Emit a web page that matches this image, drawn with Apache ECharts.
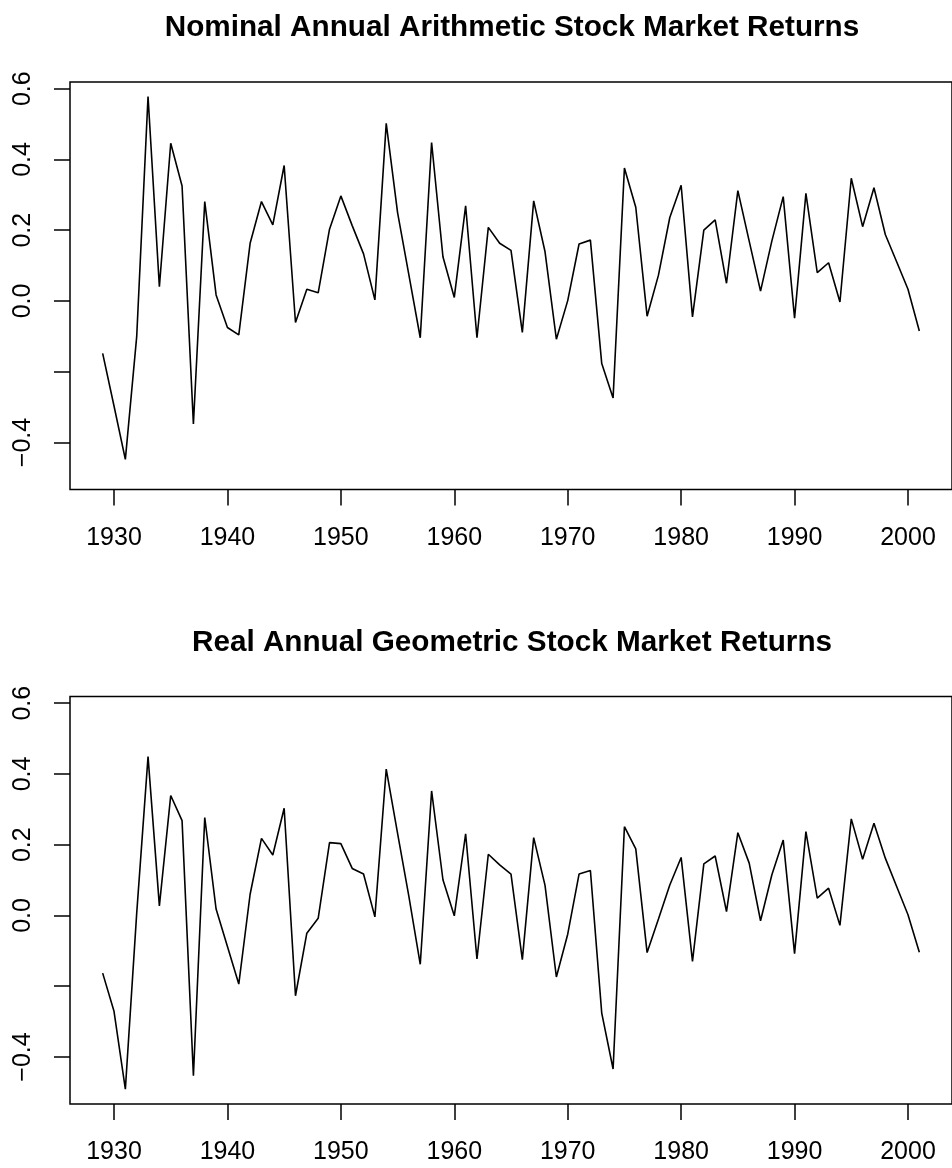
<!DOCTYPE html>
<html>
<head>
<meta charset="utf-8">
<script src="https://cdn.jsdelivr.net/npm/echarts@6/dist/echarts.min.js"></script>
<style>
html,body{margin:0;padding:0;background:#fff;}
#chart{width:952px;height:1168px;}
</style>
</head>
<body>
<div id="chart"></div>
<script>
var years = [1929,1930,1931,1932,1933,1934,1935,1936,1937,1938,1939,1940,1941,1942,1943,1944,1945,1946,1947,1948,1949,
1950,1951,1952,1953,1954,1955,1956,1957,1958,1959,1960,1961,1962,1963,1964,1965,1966,1967,1968,1969,
1970,1971,1972,1973,1974,1975,1976,1977,1978,1979,1980,1981,1982,1983,1984,1985,1986,1987,1988,1989,
1990,1991,1992,1993,1994,1995,1996,1997,1998,1999,2000,2001];

var nominalArith = [-0.148,-0.297,-0.448,-0.101,0.578,0.040,0.446,0.325,-0.348,0.281,0.017,-0.075,-0.096,0.163,0.281,0.215,0.383,-0.061,0.033,0.023,0.203,
0.297,0.213,0.133,0.003,0.502,0.250,0.073,-0.104,0.448,0.125,0.010,0.269,-0.104,0.208,0.163,0.143,-0.089,0.283,0.139,-0.108,
0.001,0.161,0.172,-0.177,-0.274,0.376,0.265,-0.043,0.073,0.236,0.327,-0.045,0.200,0.229,0.050,0.312,0.169,0.028,0.170,0.295,
-0.049,0.304,0.080,0.108,-0.003,0.347,0.210,0.320,0.188,0.111,0.033,-0.085];

var realGeom = [-0.163,-0.271,-0.491,0.006,0.449,0.027,0.339,0.268,-0.453,0.277,0.018,-0.088,-0.194,0.060,0.218,0.171,0.303,-0.227,-0.050,-0.008,0.206,
0.203,0.133,0.117,-0.004,0.414,0.232,0.053,-0.138,0.352,0.101,-0.001,0.231,-0.123,0.173,0.143,0.117,-0.125,0.220,0.085,-0.174,
-0.053,0.117,0.127,-0.276,-0.434,0.251,0.188,-0.105,-0.010,0.086,0.164,-0.130,0.146,0.168,0.011,0.234,0.148,-0.015,0.115,0.213,
-0.108,0.237,0.049,0.077,-0.028,0.273,0.159,0.261,0.162,0.082,0.002,-0.104];

var titles = ['Nominal Annual Arithmetic Stock Market Returns', 'Real Annual Geometric Stock Market Returns'];
var xTickValues = [1930,1940,1950,1960,1970,1980,1990,2000];
var yTickValues = [-0.4,-0.2,0.0,0.2,0.4,0.6];
var yLabelValues = [-0.4,0.0,0.2,0.4,0.6];

var xRange = [1926.12, 2003.88];
var yRange = [-0.533, 0.619];

function pairs(xs, ys){ var out=[]; for(var i=0;i<xs.length;i++){ out.push([xs[i], ys[i]]); } return out; }
function fmtY(v){ var s=Math.abs(v).toFixed(1); return (v < -1e-9 ? '\u2212' : '') + s; }

var gridTops = [82, 696.5];
var titleTops = [13, 627.5];
var seriesData = [nominalArith, realGeom];

var option = {
  animation: false,
  backgroundColor: '#ffffff',
  title: [],
  grid: [],
  xAxis: [],
  yAxis: [],
  series: []
};

for (var k = 0; k < 2; k++) {
  option.title.push({
    text: titles[k],
    left: 512,
    top: titleTops[k],
    textAlign: 'center',
    padding: 0,
    textStyle: {fontFamily: 'Liberation Sans', fontWeight: 'bold', fontSize: 29.7, color: '#000'}
  });
  option.grid.push({
    left: 70, top: gridTops[k], width: 884, height: 407.5,
    show: true, borderColor: '#000', borderWidth: 1.5, backgroundColor: 'transparent'
  });
  option.xAxis.push({
    gridIndex: k, type: 'value', min: xRange[0], max: xRange[1], position: 'bottom',
    splitLine: {show: false},
    axisLine: {show: false, onZero: false},
    axisTick: {show: true, inside: false, length: 16, customValues: xTickValues, lineStyle: {color: '#000', width: 1.5}},
    axisLabel: {show: true, customValues: xTickValues, margin: 36, fontSize: 25, color: '#000', fontFamily: 'Liberation Sans',
      formatter: function(v){ return String(Math.round(v)); }}
  });
  option.yAxis.push({
    gridIndex: k, type: 'value', min: yRange[0], max: yRange[1], position: 'left',
    splitLine: {show: false},
    axisLine: {show: false, onZero: false},
    axisTick: {show: true, inside: false, length: 16, customValues: yTickValues, lineStyle: {color: '#000', width: 1.5}},
    axisLabel: {show: true, customValues: yLabelValues, rotate: 90, margin: 34, fontSize: 25, color: '#000', fontFamily: 'Liberation Sans',
      formatter: fmtY}
  });
  option.series.push({
    type: 'line', xAxisIndex: k, yAxisIndex: k,
    data: pairs(years, seriesData[k]),
    symbol: 'none', smooth: false,
    lineStyle: {color: '#000', width: 1.6},
    itemStyle: {color: '#000'}
  });
}

var chart = echarts.init(document.getElementById('chart'), null, {renderer: 'canvas'});
chart.setOption(option);
</script>
</body>
</html>
